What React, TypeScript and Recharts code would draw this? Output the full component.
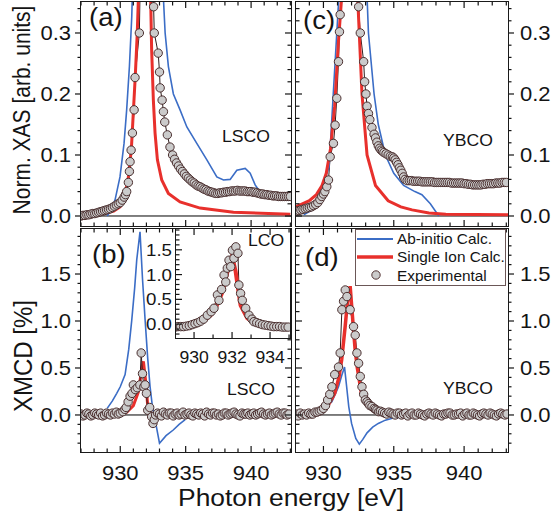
import React from 'react';
import { ComposedChart, Line, XAxis, YAxis, ReferenceLine, Legend } from 'recharts';

type Pt = [number, number];

// (a) XAS, LSCO
const xasLscoAbInitio: Pt[] = [
  [929.0, 0.0], [929.3, 0.01], [929.6, 0.026], [929.98, 0.064], [930.29, 0.119], [930.49, 0.174],
  [930.7, 0.245], [930.88, 0.327], [931.1, 0.5], [931.5, 0.85], [931.9, 1.0], [932.3, 0.9],
  [932.8, 0.6], [933.2, 0.4], [933.43, 0.3], [933.68, 0.245], [934.06, 0.2], [934.57, 0.174],
  [935.09, 0.146], [935.85, 0.119], [936.62, 0.092], [937.38, 0.064], [937.89, 0.059], [938.4, 0.06],
  [938.91, 0.075], [939.55, 0.078], [939.93, 0.07], [940.31, 0.051], [940.57, 0.043], [940.9, 0.036],
];
const xasLscoSingleIon: Pt[] = [
  [927.0, 0.001], [928.5, 0.003], [929.5, 0.008], [930.0, 0.015], [930.3, 0.03], [930.6, 0.06],
  [930.85, 0.11], [931.0, 0.17], [931.15, 0.23], [931.3, 0.3], [931.45, 0.4], [931.85, 1.0],
  [932.1, 0.7], [932.33, 0.35], [932.4, 0.272], [932.53, 0.19], [932.66, 0.136], [932.84, 0.092],
  [933.17, 0.059], [933.68, 0.037], [934.57, 0.023], [936.1, 0.013], [938.65, 0.006], [943.0, 0.003],
];
const xasLscoExp: Pt[] = [
  [927.0, 0.0], [927.15, 0.001], [927.3, 0.001], [927.45, 0.002], [927.6, 0.002], [927.75, 0.003],
  [927.9, 0.004], [928.05, 0.004], [928.2, 0.005], [928.35, 0.006], [928.5, 0.007], [928.65, 0.008],
  [928.8, 0.009], [928.95, 0.01], [929.1, 0.011], [929.25, 0.012], [929.4, 0.014], [929.55, 0.016],
  [929.7, 0.018], [929.85, 0.02], [930.0, 0.022], [930.15, 0.026], [930.3, 0.031], [930.4, 0.035],
  [930.49, 0.04], [930.62, 0.055], [930.7, 0.073], [930.75, 0.089], [930.83, 0.108], [930.93, 0.136],
  [931.06, 0.174], [931.13, 0.227], [931.46, 0.3], [931.7, 0.6], [932.0, 1.0], [932.3, 0.6],
  [932.55, 0.343], [932.6, 0.3], [932.9, 0.267], [933.0, 0.236], [933.05, 0.21], [933.2, 0.19],
  [933.3, 0.171], [933.4, 0.154], [933.6, 0.133], [933.8, 0.113], [934.0, 0.1], [934.15, 0.093],
  [934.3, 0.087], [934.45, 0.082], [934.6, 0.077], [934.75, 0.073], [934.9, 0.069], [935.05, 0.065],
  [935.2, 0.062], [935.35, 0.059], [935.5, 0.056], [935.65, 0.054], [935.8, 0.051], [935.95, 0.049],
  [936.1, 0.048], [936.25, 0.046], [936.4, 0.044], [936.55, 0.043], [936.7, 0.041], [936.85, 0.04],
  [937.0, 0.039], [937.15, 0.038], [937.3, 0.037], [937.45, 0.037], [937.6, 0.038], [937.75, 0.038],
  [937.9, 0.039], [938.05, 0.039], [938.2, 0.04], [938.35, 0.04], [938.5, 0.041], [938.65, 0.041],
  [938.8, 0.041], [938.95, 0.042], [939.1, 0.041], [939.25, 0.041], [939.4, 0.041], [939.55, 0.041],
  [939.7, 0.04], [939.85, 0.04], [940.0, 0.04], [940.15, 0.039], [940.3, 0.039], [940.45, 0.038],
  [940.6, 0.037], [940.75, 0.036], [940.9, 0.036], [941.05, 0.035], [941.2, 0.035], [941.35, 0.034],
  [941.5, 0.034], [941.65, 0.033], [941.8, 0.033], [941.95, 0.033], [942.1, 0.032], [942.25, 0.032],
  [942.4, 0.032], [942.55, 0.032], [942.7, 0.032], [942.85, 0.032], [943.0, 0.032],
];

// (c) XAS, YBCO
const xasYbcoAbInitio: Pt[] = [
  [928.6, 0.002], [929.2, 0.01], [929.7, 0.03], [930.1, 0.06], [930.4, 0.08], [930.7, 0.2],
  [930.95, 0.3], [931.1, 0.36], [931.5, 0.7], [932.0, 1.0], [932.6, 0.75], [933.0, 0.42],
  [933.2, 0.3], [933.6, 0.2], [933.9, 0.15], [934.4, 0.1], [935.0, 0.07], [935.7, 0.05],
  [936.5, 0.04], [937.0, 0.035], [937.6, 0.02], [938.2, 0.0],
];
const xasYbcoSingleIon: Pt[] = [
  [928.0, 0.015], [928.5, 0.02], [929.0, 0.025], [929.5, 0.035], [929.9, 0.05], [930.2, 0.07],
  [930.5, 0.11], [930.8, 0.18], [931.05, 0.28], [931.3, 0.36], [931.6, 0.7], [931.95, 1.0],
  [932.2, 0.7], [932.45, 0.35], [932.74, 0.2], [933.1, 0.1], [933.7, 0.05], [934.6, 0.025],
  [935.5, 0.015], [936.3, 0.01], [937.5, 0.005], [938.7, 0.003], [943.2, 0.002],
];
const xasYbcoExp: Pt[] = [
  [928.1, 0.008], [928.25, 0.009], [928.4, 0.01], [928.55, 0.011], [928.7, 0.012], [928.85, 0.013],
  [929.0, 0.014], [929.15, 0.015], [929.3, 0.017], [929.45, 0.019], [929.6, 0.022], [929.75, 0.027],
  [929.88, 0.032], [930.0, 0.036], [930.1, 0.04], [930.24, 0.048], [930.36, 0.059], [930.48, 0.097],
  [930.71, 0.119], [930.83, 0.149], [930.95, 0.193], [931.07, 0.253], [931.14, 0.302], [931.19, 0.33],
  [931.5, 0.6], [931.9, 1.0], [932.2, 0.7], [932.5, 0.343], [932.62, 0.3], [932.86, 0.253],
  [932.93, 0.22], [933.02, 0.2], [933.1, 0.18], [933.2, 0.168], [933.3, 0.158], [933.45, 0.145],
  [933.6, 0.134], [933.7, 0.128], [933.8, 0.121], [933.9, 0.115], [934.0, 0.111], [934.1, 0.108],
  [934.2, 0.106], [934.3, 0.104], [934.45, 0.102], [934.6, 0.1], [934.75, 0.098], [934.9, 0.097],
  [935.0, 0.095], [935.1, 0.092], [935.2, 0.088], [935.3, 0.084], [935.4, 0.079], [935.5, 0.075],
  [935.6, 0.07], [935.7, 0.064], [935.8, 0.06], [935.95, 0.058], [936.1, 0.058], [936.25, 0.058],
  [936.4, 0.057], [936.55, 0.057], [936.7, 0.057], [936.85, 0.057], [937.0, 0.056], [937.15, 0.056],
  [937.3, 0.056], [937.45, 0.056], [937.6, 0.056], [937.75, 0.056], [937.9, 0.055], [938.05, 0.055],
  [938.2, 0.055], [938.35, 0.055], [938.5, 0.055], [938.65, 0.055], [938.8, 0.055], [938.95, 0.055],
  [939.1, 0.054], [939.25, 0.054], [939.4, 0.054], [939.55, 0.054], [939.7, 0.054], [939.85, 0.054],
  [940.0, 0.053], [940.15, 0.053], [940.3, 0.052], [940.45, 0.052], [940.6, 0.051], [940.75, 0.051],
  [940.9, 0.051], [941.05, 0.051], [941.2, 0.051], [941.35, 0.052], [941.5, 0.052], [941.65, 0.053],
  [941.8, 0.053], [941.95, 0.053], [942.1, 0.053], [942.25, 0.054], [942.4, 0.054], [942.55, 0.054],
  [942.7, 0.055], [942.85, 0.055], [943.0, 0.055],
];

// (b) XMCD, LSCO
const xmcdLscoAbInitio: Pt[] = [
  [929.0, 0.07], [929.4, 0.15], [929.73, 0.23], [930.0, 0.3], [930.37, 0.43], [930.65, 0.7],
  [930.88, 1.01], [931.1, 1.35], [931.26, 1.65], [931.51, 1.95], [931.7, 1.45], [931.9, 1.01],
  [932.1, 0.6], [932.28, 0.3], [932.45, 0.1], [932.66, -0.05], [933.0, -0.3], [933.5, -0.22],
  [934.05, -0.16], [934.5, -0.1], [934.96, -0.05],
];
const xmcdLscoSingleIon: Pt[] = [
  [927.0, 0.0], [929.5, 0.0], [930.5, 0.03], [931.0, 0.1], [931.4, 0.25], [931.65, 0.5],
  [931.77, 0.57], [931.95, 0.35], [932.1, 0.1], [932.4, 0.0], [933.0, -0.02], [934.0, 0.0], [943.0, 0.0],
];
const xmcdLscoExp: Pt[] = [
  [927.0, 0.01], [927.15, -0.01], [927.3, 0.0], [927.45, 0.02], [927.6, 0.01], [927.75, -0.01],
  [927.9, 0.0], [928.05, 0.02], [928.2, 0.01], [928.35, 0.0], [928.5, 0.02], [928.65, -0.01],
  [928.8, 0.0], [928.95, 0.02], [929.1, 0.01], [929.25, 0.0], [929.4, 0.02], [929.55, 0.01],
  [929.7, 0.03], [929.85, 0.01], [930.0, 0.02], [930.2, 0.035], [930.35, 0.06], [930.45, 0.08],
  [930.6, 0.14], [930.75, 0.2], [930.9, 0.23], [931.0, 0.32], [931.15, 0.27], [931.3, 0.29],
  [931.5, 0.32], [931.6, 0.66], [931.7, 0.44], [931.8, 0.3], [931.9, 0.32], [932.0, 0.23],
  [932.1, 0.05], [932.25, 0.08], [932.4, -0.02], [932.5, -0.09], [932.6, -0.05], [932.7, 0.0],
  [932.85, 0.02], [933.0, 0.01], [933.15, -0.01], [933.3, 0.03], [933.45, 0.01], [933.6, 0.0],
  [933.75, 0.02], [933.9, 0.02], [934.05, -0.01], [934.2, 0.01], [934.35, 0.02], [934.5, 0.0],
  [934.65, 0.01], [934.8, 0.03], [934.95, 0.0], [935.1, 0.01], [935.25, 0.02], [935.4, 0.0],
  [935.55, -0.01], [935.7, 0.02], [935.85, 0.01], [936.0, 0.0], [936.15, 0.02], [936.3, 0.01],
  [936.45, -0.01], [936.6, 0.03], [936.75, 0.01], [936.9, 0.0], [937.05, 0.02], [937.2, 0.02],
  [937.35, 0.0], [937.5, 0.01], [937.65, -0.01], [937.8, 0.0], [937.95, 0.02], [938.1, 0.02],
  [938.25, 0.0], [938.4, 0.01], [938.55, 0.02], [938.7, 0.03], [938.85, 0.01], [939.0, 0.0],
  [939.15, -0.01], [939.3, 0.02], [939.45, 0.01], [939.6, 0.01], [939.75, 0.02], [939.9, 0.0],
  [940.05, 0.01], [940.2, 0.02], [940.35, 0.0], [940.5, 0.01], [940.65, 0.02], [940.8, 0.03],
  [940.95, 0.01], [941.1, 0.0], [941.25, 0.01], [941.4, 0.02], [941.55, 0.0], [941.7, 0.01],
  [941.85, 0.02], [942.0, 0.03], [942.15, 0.01], [942.3, 0.0], [942.45, 0.02], [942.6, 0.02],
  [942.75, 0.0], [942.9, 0.01],
];

// (d) XMCD, YBCO
const xmcdYbcoAbInitio: Pt[] = [
  [928.05, 0.0], [929.0, 0.01], [929.6, 0.035], [930.2, 0.09], [930.6, 0.14], [931.07, 0.3],
  [931.3, 0.42], [931.5, 0.51], [931.65, 0.3], [931.8, 0.09], [932.0, -0.09], [932.3, -0.25],
  [932.55, -0.31], [932.8, -0.26], [933.1, -0.19], [933.5, -0.13], [933.9, -0.09], [934.4, -0.055],
  [934.9, -0.035], [935.5, -0.025], [936.3, -0.02], [937.5, -0.01], [939.0, 0.0], [943.2, 0.0],
];
const xmcdYbcoSingleIon: Pt[] = [
  [928.05, 0.02], [929.0, 0.03], [929.9, 0.05], [930.4, 0.12], [930.8, 0.23], [931.1, 0.4],
  [931.3, 0.59], [931.55, 0.95], [931.7, 1.19], [931.9, 1.37], [932.1, 0.98], [932.25, 0.7],
  [932.4, 0.51], [932.7, 0.23], [933.2, 0.11], [933.8, 0.06], [934.4, 0.035], [935.5, 0.02],
  [936.5, 0.01], [938.0, 0.005], [943.2, 0.003],
];
const xmcdYbcoExp: Pt[] = [
  [928.05, 0.01], [928.2, -0.01], [928.35, 0.02], [928.5, 0.0], [928.65, 0.01], [928.8, 0.0],
  [928.95, 0.02], [929.1, 0.01], [929.25, 0.01], [929.4, 0.03], [929.55, 0.03], [929.7, 0.04],
  [929.85, 0.05], [930.0, 0.07], [930.15, 0.1], [930.3, 0.16], [930.45, 0.22], [930.6, 0.3],
  [930.8, 0.43], [931.07, 0.51], [931.19, 0.66], [931.31, 1.12], [931.43, 1.21], [931.55, 1.33],
  [931.67, 1.26], [931.9, 1.12], [932.14, 0.94], [932.26, 0.85], [932.38, 0.66], [932.5, 0.55],
  [932.62, 0.41], [932.74, 0.3], [932.86, 0.22], [932.98, 0.16], [933.1, 0.14], [933.2, 0.12],
  [933.3, 0.1], [933.45, 0.09], [933.6, 0.07], [933.7, 0.06], [933.8, 0.05], [933.93, 0.035],
  [934.05, 0.04], [934.2, 0.03], [934.35, 0.02], [934.5, 0.01], [934.65, 0.03], [934.8, 0.02],
  [934.95, 0.01], [935.1, 0.0], [935.25, 0.02], [935.4, 0.02], [935.55, 0.0], [935.7, 0.01],
  [935.85, 0.02], [936.0, -0.01], [936.15, 0.01], [936.3, 0.02], [936.45, 0.0], [936.6, 0.0],
  [936.75, 0.02], [936.9, 0.01], [937.05, 0.0], [937.2, -0.01], [937.35, 0.01], [937.5, 0.02],
  [937.65, 0.01], [937.8, 0.0], [937.95, 0.02], [938.1, 0.01], [938.25, 0.0], [938.4, -0.01],
  [938.55, 0.01], [938.7, 0.01], [938.85, 0.02], [939.0, 0.02], [939.15, 0.0], [939.3, 0.0],
  [939.45, 0.01], [939.6, 0.01], [939.75, 0.02], [939.9, -0.01], [940.05, 0.01], [940.2, 0.02],
  [940.35, 0.0], [940.5, 0.0], [940.65, 0.02], [940.8, 0.01], [940.95, 0.0], [941.1, -0.01],
  [941.25, 0.01], [941.4, 0.02], [941.55, 0.01], [941.7, 0.0], [941.85, 0.02], [942.0, 0.01],
  [942.15, 0.0], [942.3, -0.01], [942.45, 0.01], [942.6, 0.02], [942.75, 0.01], [942.9, 0.0],
  [943.05, 0.01],
];

// inset, XMCD of LCO
const xmcdLcoSingleIon: Pt[] = [
  [929.0, -0.06], [929.5, -0.05], [930.0, -0.02], [930.5, 0.06], [930.88, 0.18], [931.2, 0.38],
  [931.5, 0.65], [931.84, 1.19], [932.0, 1.38], [932.19, 1.06], [932.32, 0.7], [932.45, 0.38],
  [932.8, 0.12], [933.1, 0.04], [933.5, -0.02], [934.0, -0.05], [935.1, -0.07],
];
const xmcdLcoExp: Pt[] = [
  [929.0, -0.06], [929.15, -0.05], [929.3, -0.05], [929.45, -0.05], [929.6, -0.04], [929.75, -0.03],
  [929.9, -0.01], [930.05, 0.01], [930.2, 0.03], [930.35, 0.06], [930.5, 0.1], [930.7, 0.18],
  [930.9, 0.25], [931.05, 0.32], [931.23, 0.59], [931.31, 0.48], [931.45, 0.7], [931.58, 0.99],
  [931.67, 0.85], [931.75, 1.13], [931.84, 1.29], [931.93, 1.16], [932.02, 1.49], [932.1, 1.33],
  [932.2, 1.56], [932.31, 1.43], [932.36, 0.79], [932.45, 0.62], [932.54, 0.48], [932.72, 0.32],
  [932.89, 0.18], [933.05, 0.1], [933.15, 0.05], [933.3, 0.03], [933.45, 0.01], [933.6, -0.01],
  [933.75, -0.02], [933.9, -0.03], [934.05, -0.04], [934.2, -0.05], [934.35, -0.05], [934.5, -0.05],
  [934.65, -0.06], [934.8, -0.06], [934.95, -0.06],
];

// labelled (major) ticks
const energyTicks = [930, 935, 940];
const insetEnergyTicks = [930, 932, 934];
const xasTicks = [0, 0.1, 0.2, 0.3];
const xmcdTicks = [0, 0.5, 1.0, 1.5];

const FONT = '"Liberation Sans", Arial, Helvetica, sans-serif';
const INK = '#141414';
const BLUE = '#3b6dc6';
const RED = '#e8302c';
const SX = 1.1;

const toRows = (pts: Pt[]) => pts.map(([e, v]) => ({ e, v }));
const range = (a: number, b: number, step: number) => {
  const out: number[] = [];
  for (let k = Math.ceil(a / step - 1e-9); k * step <= b + 1e-9; k++) out.push(+(k * step).toFixed(4));
  return out;
};
const near = (arr: number[], v: number) => arr.some((a) => Math.abs(a - v) < 1e-6);

function SText({ x, y, size, anchor = 'start', rotate = false, children }: any) {
  const t = rotate ? `translate(${x},${y}) rotate(-90) scale(1,${SX})` : `translate(${x},${y}) scale(${SX},1)`;
  return (
    <text transform={t} textAnchor={anchor} fontSize={size} fontFamily={FONT} fill={INK}>
      {children}
    </text>
  );
}

type Dir = 'in' | 'out' | 'none';
interface Series { pts: Pt[]; kind: 'abinitio' | 'single' | 'exp'; width?: number }
interface PanelProps {
  x: number; y: number; w: number; h: number;
  xDomain: [number, number]; yDomain: [number, number];
  xMinor: number; xMajor: number[]; xLabels: boolean; xFont: number; xLabelDy: number;
  yMinor: number; yMajor: number[]; yFont: number;
  left: { dir: Dir; labels: boolean; gap: number };
  right: { dir: Dir; labels: boolean; gap: number };
  series: Series[]; zeroLine?: boolean; legendAt?: { x: number; y: number };
}

const LegendBox = () => (
  <svg width={152} height={58} style={{ display: 'block', overflow: 'visible' }}>
    <rect x={0.5} y={0.5} width={150} height={56} fill="#fff" stroke="#6b5757" strokeWidth={1} />
    <line x1={2} x2={38} y1={10} y2={10} stroke={BLUE} strokeWidth={1.8} />
    <SText x={42} y={15} size={14}>Ab-initio Calc.</SText>
    <line x1={2} x2={38} y1={28} y2={28} stroke={RED} strokeWidth={3.5} />
    <SText x={42} y={33} size={14}>Single Ion Calc.</SText>
    <circle cx={21} cy={46} r={4.2} fill="#cbcbcb" stroke="#553636" strokeWidth={1} />
    <SText x={42} y={51.5} size={14}>Experimental</SText>
  </svg>
);

function Panel(p: PanelProps) {
  const M = 60;
  const xt = range(p.xDomain[0], p.xDomain[1], p.xMinor);
  const yt = range(p.yDomain[0], p.yDomain[1], p.yMinor);
  const xMaj = (v: number) => near(p.xMajor, v);
  const yMaj = (v: number) => near(p.yMajor, v);

  const bottomTick = (t: any) => {
    const v = t.payload.value;
    const len = xMaj(v) ? 6 : 3.5;
    return (
      <g>
        <line x1={t.x} x2={t.x} y1={t.y} y2={t.y - len} stroke={INK} strokeWidth={1.2} />
        {p.xLabels && xMaj(v) && (
          <SText x={t.x} y={t.y + p.xLabelDy} size={p.xFont} anchor="middle">{v}</SText>
        )}
      </g>
    );
  };
  const topTick = (t: any) => {
    const len = xMaj(t.payload.value) ? 6 : 3.5;
    return <line x1={t.x} x2={t.x} y1={t.y} y2={t.y + len} stroke={INK} strokeWidth={1.2} />;
  };
  const sideTick = (side: 'left' | 'right') => (t: any) => {
    const cfg = side === 'left' ? p.left : p.right;
    const v = t.payload.value;
    const len = yMaj(v) ? 6 : 3.5;
    const outward = side === 'left' ? -1 : 1;
    const s = cfg.dir === 'out' ? outward : -outward;
    return (
      <g>
        {cfg.dir !== 'none' && (
          <line x1={t.x} x2={t.x + s * len} y1={t.y} y2={t.y} stroke={INK} strokeWidth={1.2} />
        )}
        {cfg.labels && yMaj(v) && (
          <SText
            x={side === 'left' ? t.x - cfg.gap : t.x + cfg.gap}
            y={t.y + 0.36 * p.yFont}
            size={p.yFont}
            anchor={side === 'left' ? 'end' : 'start'}
          >
            {v.toFixed(1)}
          </SText>
        )}
      </g>
    );
  };

  // axes get 1px of room (a zero-size axis is not drawn); margins shrink to match
  return (
    <div style={{ position: 'absolute', left: p.x - M, top: p.y - M }}>
      <ComposedChart width={p.w + 2 * M} height={p.h + 2 * M} margin={{ top: M - 1, right: M - 1, bottom: M - 1, left: M - 1 }}>
        <XAxis xAxisId="b" dataKey="e" type="number" domain={p.xDomain} allowDataOverflow ticks={xt}
          interval={0} tick={bottomTick} tickLine={false} axisLine={false} tickSize={0} tickMargin={0} height={1} />
        <XAxis xAxisId="t" orientation="top" dataKey="e" type="number" domain={p.xDomain} allowDataOverflow
          ticks={xt} interval={0} tick={topTick} tickLine={false} axisLine={false} tickSize={0} tickMargin={0} height={1} />
        <YAxis yAxisId="l" type="number" domain={p.yDomain} allowDataOverflow ticks={yt} interval={0}
          tick={sideTick('left')} tickLine={false} axisLine={false} tickSize={0} tickMargin={0} width={1} />
        <YAxis yAxisId="r" orientation="right" type="number" domain={p.yDomain} allowDataOverflow ticks={yt}
          interval={0} tick={sideTick('right')} tickLine={false} axisLine={false} tickSize={0} tickMargin={0} width={1} />
        {p.zeroLine && <ReferenceLine xAxisId="b" yAxisId="l" y={0} stroke="#000" strokeWidth={1} />}
        {p.series.map((s, i) =>
          s.kind === 'exp' ? (
            <Line key={i} data={toRows(s.pts)} dataKey="v" xAxisId="b" yAxisId="l" type="linear"
              stroke="#2e1c1c" strokeWidth={1}
              dot={{ r: 4.2, fill: '#cbcbcb', stroke: '#4a2e2e', strokeWidth: 1 }}
              isAnimationActive={false} />
          ) : (
            <Line key={i} data={toRows(s.pts)} dataKey="v" xAxisId="b" yAxisId="l" type="linear"
              stroke={s.kind === 'abinitio' ? BLUE : RED}
              strokeWidth={s.width ?? (s.kind === 'abinitio' ? 1.6 : 3)}
              dot={false} isAnimationActive={false} />
          )
        )}
        {p.legendAt && (
          <Legend layout="horizontal" verticalAlign="middle" content={() => <LegendBox />}
            wrapperStyle={{ left: p.legendAt.x - (p.x - M), top: p.legendAt.y - (p.y - M), width: 152, height: 58 }} />
        )}
      </ComposedChart>
    </div>
  );
}

const Frame = ({ x, y, w, h, bg }: { x: number; y: number; w: number; h: number; bg?: boolean }) => (
  <div style={{
    position: 'absolute', left: x - 0.75, top: y - 0.75, width: w + 1.5, height: h + 1.5,
    boxSizing: 'border-box', border: bg ? 'none' : '1.5px solid #1a1a1a', background: bg ? '#fff' : 'transparent',
  }} />
);

// plot rectangles
const L = { x: 81, w: 210 };
const R = { x: 296, w: 212 };
const TOP = { y: 2, h: 224 };
const BOT = { y: 229, h: 223 };
const INSET = { x: 176, y: 229, w: 114, h: 109 };

const xasDomain: [number, number] = [-0.0164, 0.3508];
const xmcdDomain: [number, number] = [-0.394, 1.979];
const leftE: [number, number] = [927, 943.05];
const rightE: [number, number] = [928.05, 943.12];

const outerLeft = { dir: 'out' as Dir, labels: true, gap: 10 };
const outerRight = { dir: 'out' as Dir, labels: true, gap: 12 };
const innerEdge = { dir: 'in' as Dir, labels: false, gap: 0 };

export default function App() {
  const common = { xMinor: 1, xMajor: energyTicks, xFont: 20, xLabelDy: 28, yFont: 20, zeroLine: true };
  return (
    <div style={{ position: 'absolute', left: 0, top: 0, width: 557, height: 524, background: '#fff', overflow: 'hidden' }}>
      <Panel {...common} x={L.x} y={TOP.y} w={L.w} h={TOP.h} xDomain={leftE} yDomain={xasDomain}
        xLabels={false} yMinor={0.02} yMajor={xasTicks} left={outerLeft} right={innerEdge}
        series={[{ pts: xasLscoExp, kind: 'exp' }, { pts: xasLscoAbInitio, kind: 'abinitio' }, { pts: xasLscoSingleIon, kind: 'single' }]} />
      <Panel {...common} x={R.x} y={TOP.y} w={R.w} h={TOP.h} xDomain={rightE} yDomain={xasDomain}
        xLabels={false} yMinor={0.02} yMajor={xasTicks} left={innerEdge} right={outerRight}
        series={[{ pts: xasYbcoExp, kind: 'exp' }, { pts: xasYbcoAbInitio, kind: 'abinitio' }, { pts: xasYbcoSingleIon, kind: 'single' }]} />
      <Panel {...common} x={L.x} y={BOT.y} w={L.w} h={BOT.h} xDomain={leftE} yDomain={xmcdDomain}
        xLabels yMinor={0.1} yMajor={xmcdTicks} left={outerLeft} right={innerEdge}
        series={[{ pts: xmcdLscoAbInitio, kind: 'abinitio' }, { pts: xmcdLscoSingleIon, kind: 'single' }, { pts: xmcdLscoExp, kind: 'exp' }]} />
      <Frame x={INSET.x} y={INSET.y} w={INSET.w} h={INSET.h} bg />
      <Panel x={INSET.x} y={INSET.y} w={INSET.w} h={INSET.h} xDomain={[929.05, 935.05]} yDomain={[-0.28, 1.92]}
        xMinor={1} xMajor={insetEnergyTicks} xLabels xFont={16} xLabelDy={24.5}
        yMinor={0.1} yMajor={xmcdTicks} yFont={17}
        left={{ dir: 'in', labels: true, gap: 4 }} right={{ dir: 'none', labels: false, gap: 0 }}
        series={[{ pts: xmcdLcoExp, kind: 'exp' }, { pts: xmcdLcoSingleIon, kind: 'single', width: 4 }]} />
      <Panel {...common} x={R.x} y={BOT.y} w={R.w} h={BOT.h} xDomain={rightE} yDomain={xmcdDomain}
        xLabels yMinor={0.1} yMajor={xmcdTicks} left={innerEdge} right={outerRight}
        legendAt={{ x: 355, y: 228.5 }}
        series={[{ pts: xmcdYbcoExp, kind: 'exp' }, { pts: xmcdYbcoAbInitio, kind: 'abinitio' }, { pts: xmcdYbcoSingleIon, kind: 'single', width: 3.5 }]} />

      <Frame x={L.x} y={TOP.y} w={L.w} h={TOP.h} />
      <Frame x={R.x} y={TOP.y} w={R.w} h={TOP.h} />
      <Frame x={L.x} y={BOT.y} w={L.w} h={BOT.h} />
      <Frame x={R.x} y={BOT.y} w={R.w} h={BOT.h} />
      <Frame x={INSET.x} y={INSET.y} w={INSET.w} h={INSET.h} />

      <svg width={557} height={524} style={{ position: 'absolute', left: 0, top: 0, pointerEvents: 'none' }}>
        <SText x={89} y={25.5} size={25}>(a)</SText>
        <SText x={303} y={28.5} size={25}>(c)</SText>
        <SText x={92} y={262.5} size={25}>(b)</SText>
        <SText x={305} y={265.5} size={25}>(d)</SText>
        <SText x={222} y={142} size={16}>LSCO</SText>
        <SText x={443} y={146} size={16}>YBCO</SText>
        <SText x={248} y={246} size={16}>LCO</SText>
        <SText x={227} y={395} size={16}>LSCO</SText>
        <SText x={443} y={394} size={16}>YBCO</SText>
        <SText x={30} y={110} size={21} anchor="middle" rotate>Norm. XAS [arb. units]</SText>
        <SText x={32} y={356} size={24} anchor="middle" rotate>XMCD [%]</SText>
        <SText x={291} y={506} size={24} anchor="middle">Photon energy [eV]</SText>
      </svg>
    </div>
  );
}
